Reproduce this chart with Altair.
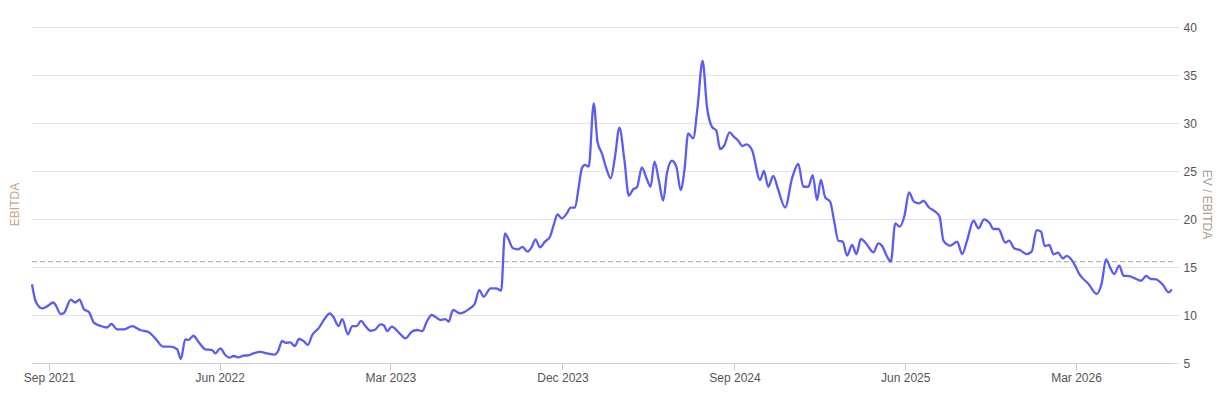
import altair as alt
import pandas as pd
from datetime import datetime

dates = [
    "2021-08-05", "2021-08-11", "2021-08-21", "2021-08-29", "2021-09-08", "2021-09-12",
    "2021-09-20", "2021-09-25", "2021-10-06", "2021-10-13", "2021-10-20", "2021-10-27",
    "2021-11-04", "2021-11-12", "2021-11-23", "2021-12-03", "2021-12-10", "2021-12-19",
    "2021-12-30", "2022-01-12", "2022-01-25", "2022-02-07", "2022-02-18", "2022-03-03",
    "2022-03-14", "2022-03-25", "2022-03-31", "2022-04-07", "2022-04-12", "2022-04-20",
    "2022-04-28", "2022-05-09", "2022-05-20", "2022-05-25", "2022-06-02", "2022-06-10",
    "2022-06-17", "2022-06-23", "2022-07-01", "2022-07-09", "2022-07-17", "2022-07-25",
    "2022-08-05", "2022-08-16", "2022-08-28", "2022-09-02", "2022-09-09", "2022-09-14",
    "2022-09-22", "2022-09-29", "2022-10-06", "2022-10-13", "2022-10-20", "2022-10-27",
    "2022-11-06", "2022-11-17", "2022-11-24", "2022-11-30", "2022-12-08", "2022-12-14",
    "2022-12-23", "2022-12-30", "2023-01-06", "2023-01-13", "2023-01-20", "2023-01-28",
    "2023-02-05", "2023-02-13", "2023-02-18", "2023-02-24", "2023-03-03", "2023-03-14",
    "2023-03-25", "2023-04-04", "2023-04-12", "2023-04-21", "2023-04-28", "2023-05-06",
    "2023-05-20", "2023-05-28", "2023-06-02", "2023-06-09", "2023-06-20", "2023-07-04",
    "2023-07-14", "2023-07-21", "2023-07-28", "2023-08-08", "2023-08-17", "2023-08-25",
    "2023-08-31", "2023-09-05", "2023-09-13", "2023-09-21", "2023-09-28", "2023-10-06",
    "2023-10-13", "2023-10-19", "2023-10-26", "2023-11-03", "2023-11-11", "2023-11-17",
    "2023-11-23", "2023-11-30", "2023-12-08", "2023-12-14", "2023-12-21", "2023-12-27",
    "2024-01-01", "2024-01-06", "2024-01-12", "2024-01-20", "2024-01-26", "2024-02-02",
    "2024-02-10", "2024-02-16", "2024-02-23", "2024-03-01", "2024-03-09", "2024-03-16",
    "2024-03-23", "2024-03-29", "2024-04-06", "2024-04-13", "2024-04-20", "2024-04-26",
    "2024-05-03", "2024-05-10", "2024-05-16", "2024-05-24", "2024-05-31", "2024-06-07",
    "2024-06-13", "2024-06-19", "2024-06-27", "2024-07-04", "2024-07-12", "2024-07-19",
    "2024-07-27", "2024-08-03", "2024-08-09", "2024-08-16", "2024-08-24", "2024-08-31",
    "2024-09-06", "2024-09-14", "2024-09-20", "2024-09-29", "2024-10-12", "2024-10-18",
    "2024-10-25", "2024-11-02", "2024-11-10", "2024-11-21", "2024-12-02", "2024-12-12",
    "2024-12-20", "2024-12-28", "2025-01-04", "2025-01-11", "2025-01-17", "2025-01-24",
    "2025-02-01", "2025-02-07", "2025-02-14", "2025-02-21", "2025-02-28", "2025-03-08",
    "2025-03-15", "2025-03-22", "2025-03-31", "2025-04-11", "2025-04-19", "2025-04-25",
    "2025-05-03", "2025-05-09", "2025-05-16", "2025-05-23", "2025-05-31", "2025-06-07",
    "2025-06-15", "2025-06-23", "2025-06-30", "2025-07-09", "2025-07-19", "2025-07-26",
    "2025-08-01", "2025-08-12", "2025-08-23", "2025-08-31", "2025-09-08", "2025-09-18",
    "2025-09-26", "2025-10-05", "2025-10-14", "2025-10-20", "2025-10-28", "2025-11-08",
    "2025-11-14", "2025-11-22", "2025-12-01", "2025-12-12", "2025-12-20", "2025-12-28",
    "2026-01-04", "2026-01-10", "2026-01-17", "2026-01-24", "2026-01-31", "2026-02-08",
    "2026-02-14", "2026-02-24", "2026-03-07", "2026-03-21", "2026-04-03", "2026-04-11",
    "2026-04-18", "2026-04-25", "2026-05-01", "2026-05-09", "2026-05-16", "2026-05-25",
    "2026-06-03", "2026-06-13", "2026-06-21", "2026-06-29", "2026-07-07", "2026-07-18",
    "2026-07-27", "2026-08-01",
]

ev_ebitda = [
    13.2, 11.4, 10.7, 10.9, 11.3, 11.0,
    10.1, 10.2, 11.6, 11.3, 11.6, 10.6,
    10.3, 9.2, 8.85, 8.7, 9.06, 8.5,
    8.5, 8.85, 8.44, 8.23, 7.57, 6.7,
    6.7, 6.43, 5.42, 7.47, 7.4, 7.84,
    7.22, 6.43, 6.35, 6.0, 6.53, 5.83,
    5.55, 5.73, 5.59, 5.76, 5.80, 6.0,
    6.15, 6.0, 5.87, 6.18, 7.29, 7.11,
    7.15, 6.77, 7.5, 7.29, 6.88, 7.92,
    8.61, 9.72, 10.17, 9.76, 8.85, 9.58,
    7.99, 8.85, 8.85, 9.38, 8.85, 8.36,
    8.5, 9.03, 8.96, 8.33, 8.78, 8.2,
    7.57, 8.26, 8.44, 8.33, 9.3, 10.0,
    9.48, 9.58, 9.3, 10.52, 10.17, 10.59,
    11.2, 12.6, 11.9, 12.78, 12.78, 12.53,
    18.5, 18.0, 16.95, 16.84, 17.1, 16.6,
    17.1, 17.88, 17.05, 17.64, 18.16, 19.38,
    20.49, 20.07, 20.59, 21.18, 21.18, 23.36,
    25.28, 25.63, 25.45, 32.04, 28.05, 26.84,
    25.1, 24.24, 26.49, 29.51, 26.15, 22.43,
    23.09, 23.3, 25.38, 24.3, 23.36, 25.97,
    24.06, 21.91, 24.76, 26.07, 25.45, 23.02,
    25.1, 28.92, 28.4, 31.69, 36.46, 31.69,
    29.6, 29.2, 27.29, 27.7, 29.03, 28.57,
    28.23, 27.6, 27.78, 27.19, 24.06, 25.0,
    23.36, 24.48, 23.02, 21.2, 24.24, 25.73,
    23.36, 23.36, 24.58, 21.98, 24.06, 22.25,
    21.8, 19.9, 17.74, 17.64, 16.18, 17.29,
    16.35, 17.92, 17.4, 16.53, 17.47, 17.19,
    16.07, 15.55, 19.55, 19.2, 20.42, 22.78,
    21.8, 21.63, 21.88, 21.2, 20.76, 20.24,
    17.74, 17.22, 17.64, 16.35, 17.81, 19.82,
    19.03, 19.97, 19.55, 18.96, 18.96, 17.53,
    17.74, 16.95, 16.77, 16.35, 16.6, 18.85,
    18.68, 17.19, 17.29, 16.32, 16.49, 15.9,
    16.15, 15.55, 14.17, 13.23, 12.19, 13.3,
    15.8, 14.86, 14.27, 15.14, 14.09, 14.06,
    13.82, 13.57, 14.06, 13.75, 13.72, 13.13,
    12.36, 12.68,
]

average_value = [15.55]
x_tick_dates = ["2021-09-01", "2022-06-01", "2023-03-01", "2023-12-01",
                "2024-09-01", "2025-06-01", "2026-03-01"]
y_ticks = [5, 10, 15, 20, 25, 30, 35, 40]
x_domain = ["2021-08-05", "2026-08-03"]

FONT = "Liberation Sans"
LABEL_COLOR = "#555555"
GRID_COLOR = "#e3e3e3"

df = pd.DataFrame({"date": pd.to_datetime(dates), "value": ev_ebitda})
avg_df = pd.DataFrame({"avg": average_value})

def to_dt(s):
    d = datetime.strptime(s, "%Y-%m-%d")
    return alt.DateTime(year=d.year, month=d.month, date=d.day)

x_scale = alt.Scale(domain=[to_dt(s) for s in x_domain])
y_scale = alt.Scale(domain=[5, 40], nice=False, zero=False)

x_enc = alt.X(
    "date:T",
    scale=x_scale,
    title=None,
    axis=alt.Axis(
        values=[to_dt(s) for s in x_tick_dates],
        format="%b %Y",
        grid=False,
        domainColor="#cccccc",
        tickColor="#cccccc",
        tickSize=7,
        labelPadding=2,
        labelFontSize=12,
        labelColor=LABEL_COLOR,
        labelFont=FONT,
    ),
)

rule = alt.Chart(avg_df).mark_rule(
    color="#b5b5b5", strokeDash=[5, 3], strokeWidth=1.2
).encode(
    y=alt.Y(
        "avg:Q",
        scale=y_scale,
        axis=alt.Axis(
            orient="left",
            title="EBITDA",
            labels=False,
            ticks=False,
            domain=False,
            grid=False,
            titleColor="#c6a686",
            titleFont=FONT,
            titleFontSize=12,
            titleFontWeight="normal",
            titleX=-18,
            titleY=177,
            titleAngle=270,
            titleBaseline="middle",
            titleAlign="center",
        ),
    )
)

line = alt.Chart(df).mark_line(
    color="#5b5cf2", strokeWidth=2.3, interpolate="monotone"
).encode(
    x=x_enc,
    y=alt.Y(
        "value:Q",
        scale=y_scale,
        axis=alt.Axis(
            orient="right",
            title="EV / EBITDA",
            values=y_ticks,
            grid=True,
            gridColor=GRID_COLOR,
            domain=False,
            ticks=True,
            tickColor=GRID_COLOR,
            tickSize=6,
            labelPadding=4,
            labelFontSize=12,
            labelColor=LABEL_COLOR,
            labelFont=FONT,
            titleColor="#a99b92",
            titleFont=FONT,
            titleFontSize=12,
            titleFontWeight="normal",
            titleX=33,
            titleY=177,
            titleAngle=90,
            titleBaseline="middle",
            titleAlign="center",
        ),
    ),
)

chart = alt.layer(rule, line).resolve_scale(y="independent").properties(
    width=1141,
    height=336,
    padding={"left": 24, "top": 19, "right": 46, "bottom": 30},
    autosize=alt.AutoSizeParams(type="none"),
    background="white",
).configure_view(stroke=None)

chart.save("out.html", embed_options={"renderer": "svg", "actions": False})
